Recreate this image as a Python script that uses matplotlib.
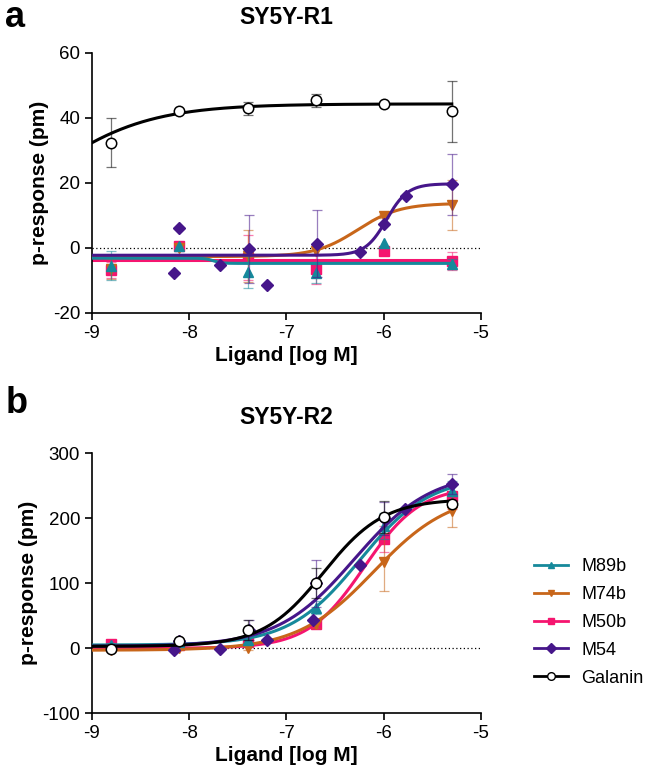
import numpy as np
import matplotlib.pyplot as plt

plt.rcParams['font.family'] = ['Liberation Sans', 'DejaVu Sans']
plt.rcParams['axes.unicode_minus'] = False

# concentrations (log M)
x_std = [-8.8, -8.1, -7.4, -6.7, -6.0, -5.3]
x_m54_a = [-8.16, -8.1, -7.68, -7.39, -7.2, -6.69, -6.24, -6.0, -5.77, -5.3]
x_m54_b = [-8.16, -8.1, -7.68, -7.39, -7.2, -6.73, -6.7, -6.24, -6.0, -5.78, -5.3]

# panel a: SY5Y-R1
a_galanin = [32.4, 42.0, 43.0, 45.4, 44.4, 42.0]
a_galanin_err = [7.5, 0, 2.0, 2.0, 0.5, 9.3]
a_m89b = [-5.5, 0.6, -7.4, -7.9, 1.6, -5.0]
a_m89b_err = [4.5, 0, 5.0, 3.0, 0, 1.5]
a_m74b = [-6.5, 0.0, -2.5, -0.9, 9.8, 13.2]
a_m74b_err = [3.0, 0, 8.0, 0, 0.5, 7.8]
a_m50b = [-6.8, 0.4, -3.0, -6.6, -1.1, -4.0]
a_m50b_err = [2.5, 0, 7.0, 4.5, 0, 2.7]
a_m54 = [-7.7, 6.0, -5.3, -0.4, -11.5, 1.3, -1.4, 7.3, 16.0, 19.5]
a_m54_err = [0, 0, 0, 10.5, 0, 10.3, 0, 0, 0, 9.4]

# panel b: SY5Y-R2
b_galanin = [-1.5, 12, 28, 100, 202, 222.6]
b_galanin_err = [3, 2, 15, 23, 25, 5]
b_m89b = [5, 10, 13, 62.6, 189, 242]
b_m89b_err = [3, 2, 5, 10, 20, 15]
b_m74b = [-3, 0, 0, 37, 133, 211]
b_m74b_err = [3, 2, 3, 5, 45, 25]
b_m50b = [7, 5, 10, 37, 169, 235]
b_m50b_err = [3, 2, 3, 5, 20, 20]
b_m54 = [-2, 12, -1, 28, 13, 44, 100, 128, 200, 214, 253]
b_m54_err = [0, 0, 0, 15, 0, 0, 36, 0, 25, 0, 15]

# fitted curve parameters: bottom, top, logEC50, hill
a_fit = {
    'M89b': [-3.2, -4.8, -7.75, 10],
    'M74b': [-2.7, 13.7, -6.27, 2.0],
    'M50b': [-3.8, -3.8, -7.0, 1.0],
    'M54': [-2.3, 19.7, -5.97, 4.0],
    'Galanin': [0, 44.3, -9.54, 0.8],
}
b_fit = {
    'M89b': [5, 265, -6.25, 1.2],
    'M74b': [-3, 240, -6.1, 1.1],
    'M50b': [0, 250, -6.2, 1.5],
    'M54': [3, 272, -6.3, 1.1],
    'Galanin': [3, 230, -6.62, 1.4],
}

names = ['M50b', 'M74b', 'M89b', 'M54', 'Galanin']
colors = {'M89b': '#16899b', 'M74b': '#c8661a', 'M50b': '#f5156f',
          'M54': '#46168a', 'Galanin': 'black'}
markers = {'M89b': '^', 'M74b': 'v', 'M50b': 's', 'M54': 'D', 'Galanin': 'o'}


def logistic(x, bottom, top, logec, hill):
    return bottom + (top - bottom) / (1 + 10 ** ((logec - x) * hill))


def draw(ax, data, fit, ylim, yticks):
    xc = np.linspace(-9, -5.3, 300)
    ax.axhline(0, color='black', lw=0.9, ls=(0, (1, 2)), zorder=1)
    handles = {}
    for i, n in enumerate(names):
        xs, ys, es = data[n]
        c = colors[n]
        ax.plot(xc, logistic(xc, *fit[n]), color=c, lw=2.2, zorder=2 + i)
        xe = [a for a, e in zip(xs, es) if e > 0]
        ye = [a for a, e in zip(ys, es) if e > 0]
        ee = [e for e in es if e > 0]
        ax.errorbar(xe, ye, yerr=ee, fmt='none', ecolor=c, alpha=0.55,
                    elinewidth=0.9, capsize=3.5, capthick=0.9, zorder=2 + i)
        if n == 'Galanin':
            ax.plot(xs, ys, ls='none', marker='o', ms=7.5, mfc='white',
                    mec='black', mew=1.1, zorder=10)
        else:
            ax.plot(xs, ys, ls='none', marker=markers[n], ms=6.5, color=c,
                    zorder=3 + i)
        handles[n] = plt.Line2D([], [], color=c, lw=2, marker=markers[n],
                                ms=5 if n != 'Galanin' else 5.5,
                                mfc='white' if n == 'Galanin' else c,
                                mec=c, mew=1)
    ax.set_xlim(-9, -5)
    ax.set_ylim(*ylim)
    ax.set_xticks([-9, -8, -7, -6, -5])
    ax.set_yticks(yticks)
    ax.spines['top'].set_visible(False)
    ax.spines['right'].set_visible(False)
    for s in ['left', 'bottom']:
        ax.spines[s].set_linewidth(1.2)
    ax.tick_params(direction='out', length=5, width=1.2, labelsize=13.5)
    ax.set_xlabel('Ligand [log M]', fontsize=15, fontweight='bold', labelpad=3)
    ax.set_ylabel('p-response (pm)', fontsize=15, fontweight='bold', labelpad=3)
    return handles


fig = plt.figure(figsize=(6.45, 7.78), dpi=100)
ax1 = fig.add_axes([0.1426, 0.598, 0.603, 0.334])
ax2 = fig.add_axes([0.1426, 0.0832, 0.603, 0.334])

data_a = {
    'Galanin': (x_std, a_galanin, a_galanin_err),
    'M89b': (x_std, a_m89b, a_m89b_err),
    'M74b': (x_std, a_m74b, a_m74b_err),
    'M50b': (x_std, a_m50b, a_m50b_err),
    'M54': (x_m54_a, a_m54, a_m54_err),
}
data_b = {
    'Galanin': (x_std, b_galanin, b_galanin_err),
    'M89b': (x_std, b_m89b, b_m89b_err),
    'M74b': (x_std, b_m74b, b_m74b_err),
    'M50b': (x_std, b_m50b, b_m50b_err),
    'M54': (x_m54_b, b_m54, b_m54_err),
}

draw(ax1, data_a, a_fit, (-20, 60), [-20, 0, 20, 40, 60])
h = draw(ax2, data_b, b_fit, (-100, 300), [-100, 0, 100, 200, 300])

ax1.set_title('SY5Y-R1', fontsize=16.5, fontweight='bold', pad=21)
ax2.set_title('SY5Y-R2', fontsize=16.5, fontweight='bold', pad=21)
fig.text(0.008, 0.965, 'a', fontsize=26, fontweight='bold', va='baseline')
fig.text(0.008, 0.469, 'b', fontsize=26, fontweight='bold', va='baseline')

order = ['M89b', 'M74b', 'M50b', 'M54', 'Galanin']
fig.legend([h[n] for n in order], order, loc='center left',
           bbox_to_anchor=(0.828, 0.2), frameon=False, fontsize=13,
           handlelength=1.9, labelspacing=0.6, handletextpad=0.7,
           borderpad=0.0, borderaxespad=0.0)

fig.savefig('out.png', dpi=100)
